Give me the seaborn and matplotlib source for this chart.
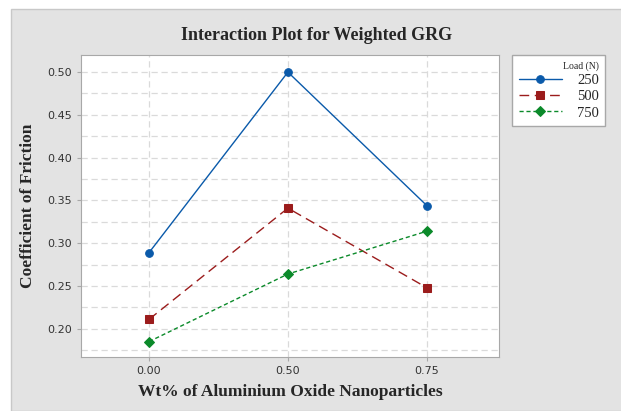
import pandas as pd
import seaborn as sns
import matplotlib.pyplot as plt
from matplotlib.patches import Rectangle

# data
wt_pct = ["0.00", "0.50", "0.75"]
load_250 = [0.289, 0.500, 0.344]
load_500 = [0.211, 0.341, 0.248]
load_750 = [0.185, 0.264, 0.314]
loads = ["250", "500", "750"]

df = pd.DataFrame({
    "wt": wt_pct * 3,
    "cof": load_250 + load_500 + load_750,
    "load": [l for l in loads for _ in wt_pct],
})

sns.set_style("white")
plt.rcParams["font.family"] = ["DejaVu Sans"]

fig = plt.figure(figsize=(6.21, 4.11), dpi=100, facecolor="white")
fig.patches.append(Rectangle((11 / 621, 0), 1, 1 - 9 / 411, transform=fig.transFigure,
                             facecolor="#e3e3e3", edgecolor="#c8c8c8", lw=1, zorder=-10))
ax = fig.add_axes([81 / 621, 1 - 357 / 411, 418 / 621, 302 / 411])
ax.set_facecolor("white")

colors = ["#0a5aaa", "#9b1c1c", "#0b8a2a"]
sns.pointplot(data=df, x="wt", y="cof", hue="load", order=wt_pct, hue_order=loads,
              palette=colors, markers=["o", "s", "D"],
              linestyles=["-", (0, (7, 4)), (0, (3, 2))],
              errorbar=None, markersize=5.5, linewidth=1, ax=ax)

ax.set_xlim(-0.49, 2.52)
ax.set_ylim(0.167, 0.52)
ax.set_yticks([0.20, 0.25, 0.30, 0.35, 0.40, 0.45, 0.50])
ax.set_yticks([0.175 + 0.05 * i for i in range(7)], minor=True)
ax.yaxis.set_major_formatter(plt.FormatStrFormatter("%.2f"))
ax.grid(True, which="both", axis="y", color="#dadada", ls=(0, (5, 3)), lw=0.9)
ax.grid(True, which="major", axis="x", color="#dadada", ls=(0, (5, 3)), lw=0.9)
ax.set_axisbelow(True)
for s in ax.spines.values():
    s.set_color("#a8a8a8")
ax.tick_params(axis="both", which="major", length=3, color="#a8a8a8", labelsize=8,
               labelcolor="#333333", left=True, bottom=True)
ax.tick_params(axis="y", which="minor", length=0)

serif = ["Liberation Serif", "DejaVu Serif"]
fig.text(317 / 621, 1 - 35 / 411, "Interaction Plot for Weighted GRG", family=serif,
         fontweight="bold", fontsize=13, ha="center", va="center")
ax.set_xlabel("Wt% of Aluminium Oxide Nanoparticles", family=serif, fontweight="bold",
              fontsize=12.5, labelpad=6)
ax.set_ylabel("Coefficient of Friction", family=serif, fontweight="bold",
              fontsize=12.5, labelpad=8)

ax.legend_.remove()
handles, labels = ax.get_legend_handles_labels()
leg = fig.legend(handles, labels, title="Load (N)", loc="upper left",
                 bbox_to_anchor=(512 / 621, 1 - 55 / 411), borderaxespad=0,
                 frameon=True, fancybox=False, edgecolor="#a8a8a8", framealpha=1,
                 prop={"family": serif, "size": 10.5}, markerfirst=True,
                 handlelength=3.0, handletextpad=1.0, borderpad=0.45,
                 labelspacing=0.2)
leg.get_title().set_family(serif)
leg.get_title().set_fontsize(7)
leg._legend_box.align = "right"
for t in leg.get_texts():
    t.set_ha("right")

fig.savefig("out.png", dpi=100, facecolor=fig.get_facecolor())
